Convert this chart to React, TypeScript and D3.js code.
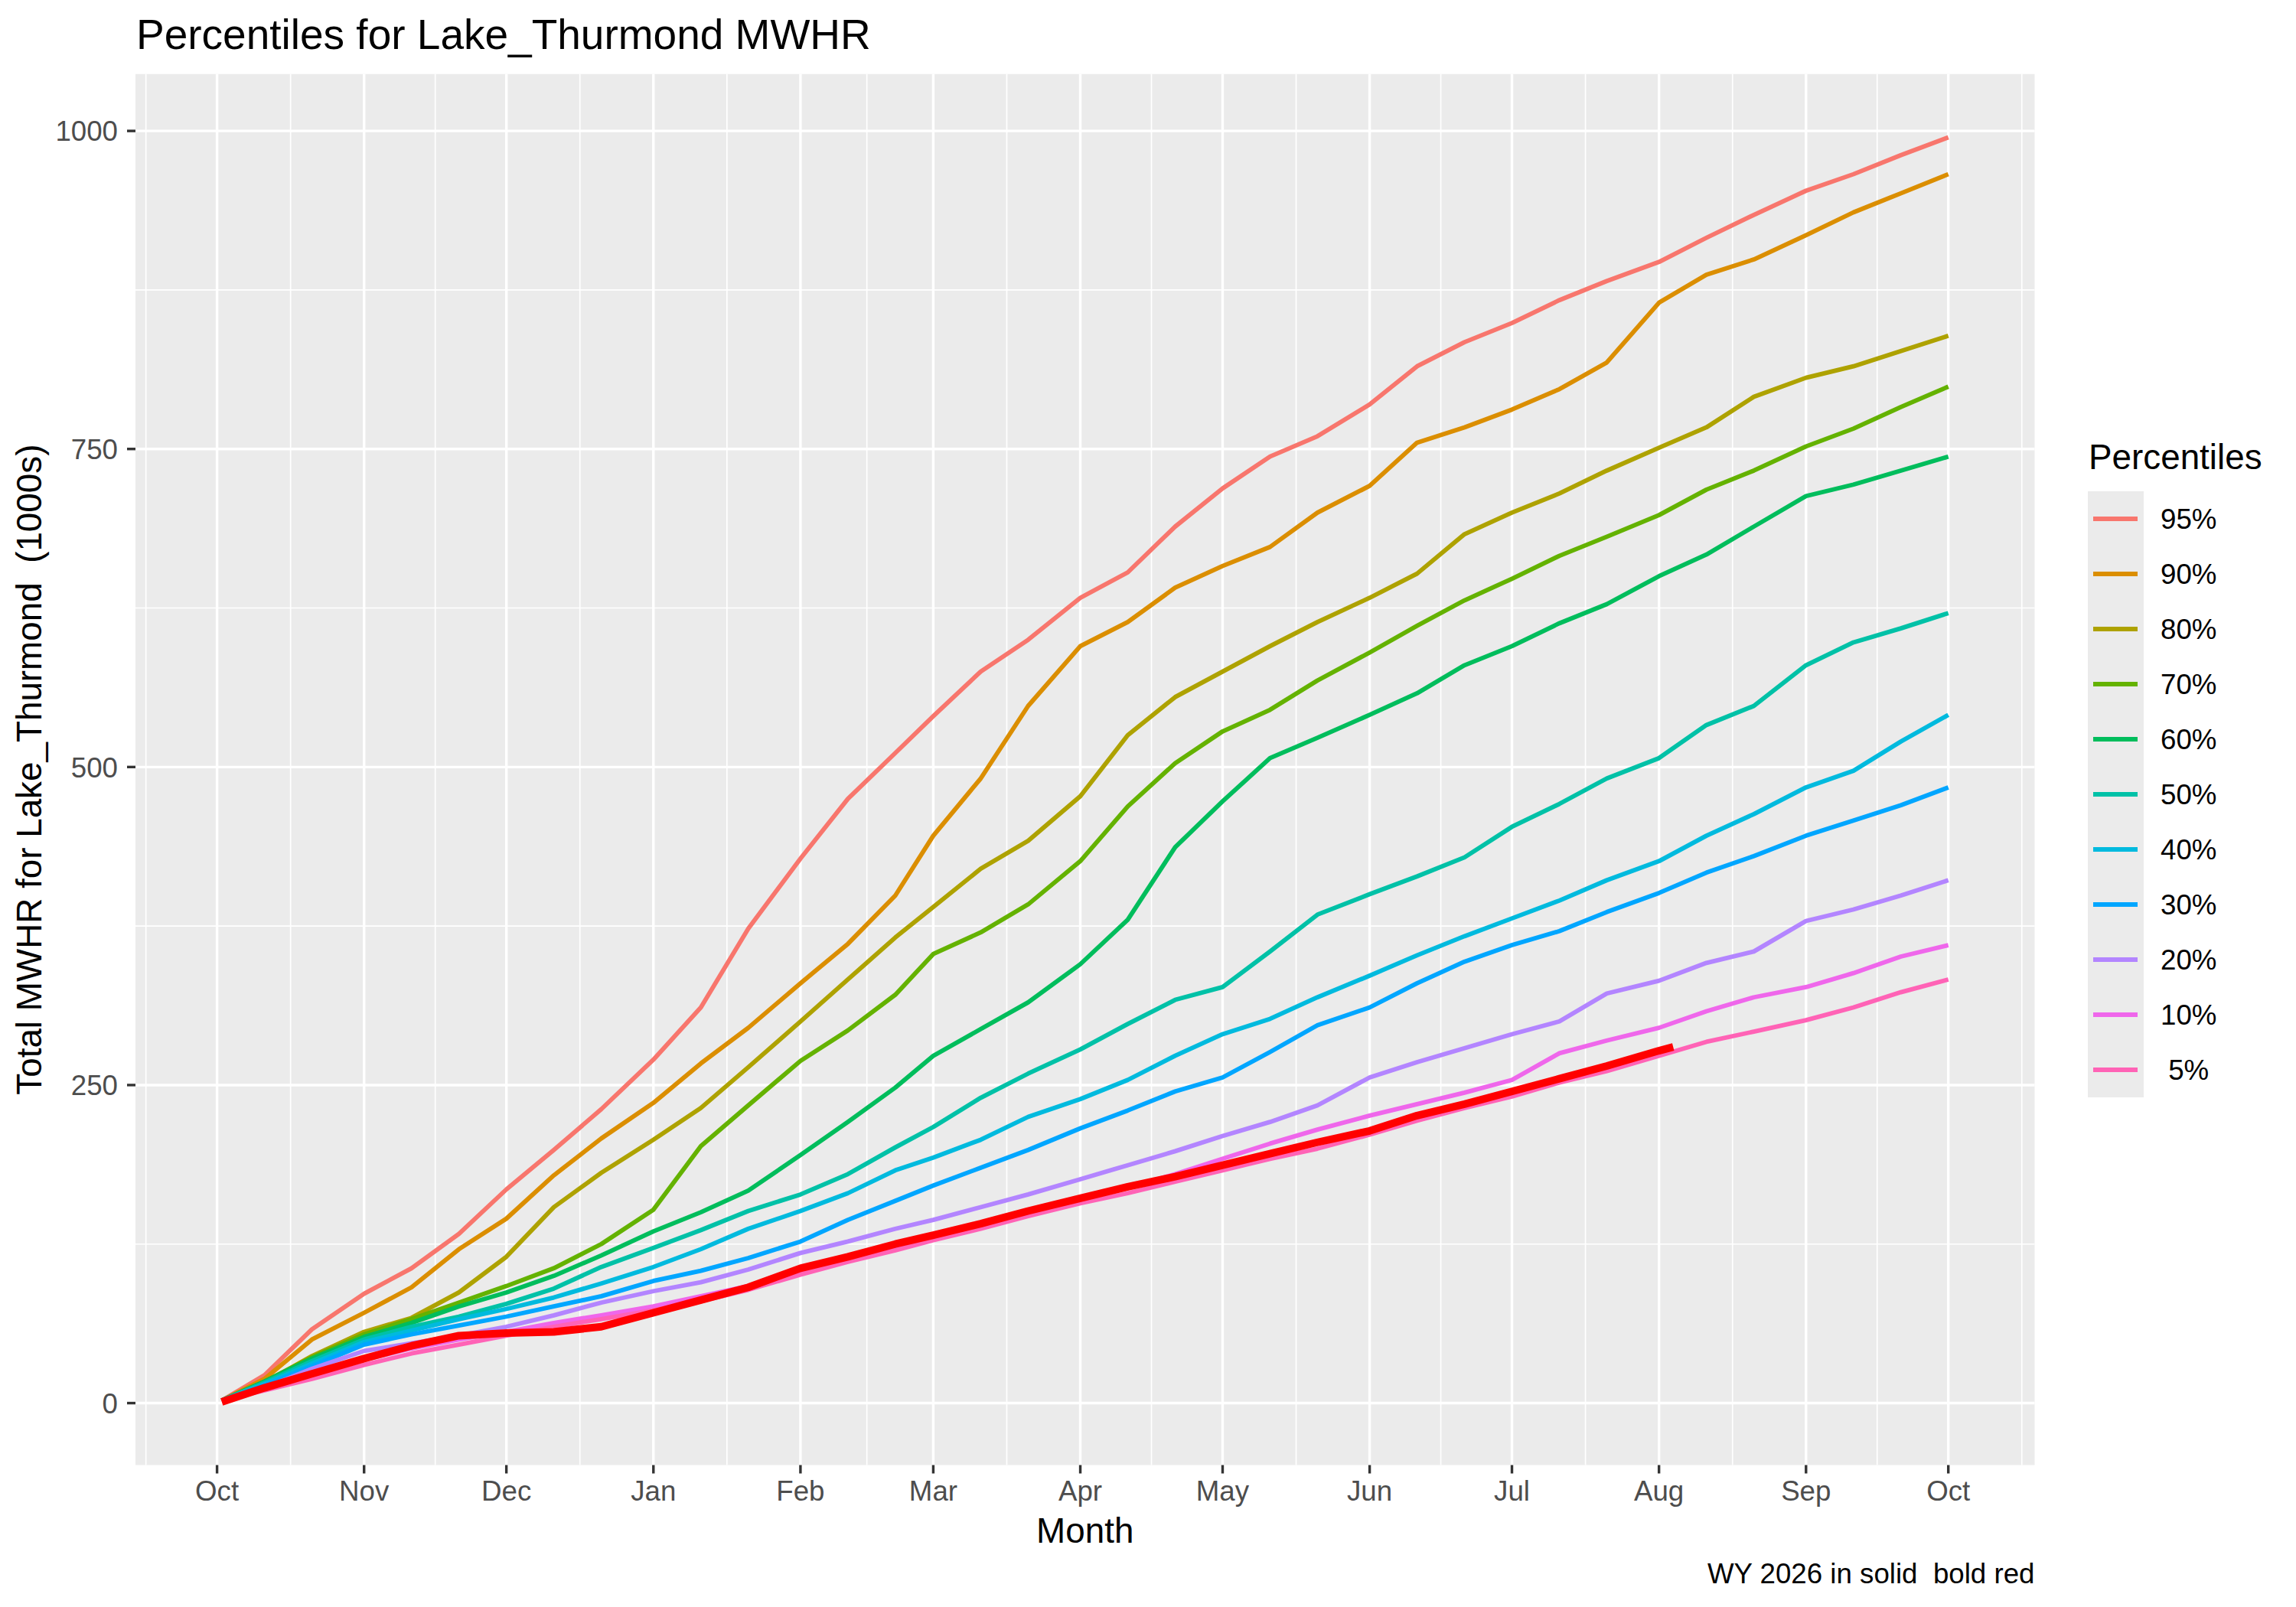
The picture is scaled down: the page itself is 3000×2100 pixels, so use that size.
import { useRef, useEffect } from "react";
import * as d3 from "d3";

// sample dates shared by the percentile curves (WY 2026: Oct 2025 - Sep 2026)
const sampleDates = [
  "2025-10-02", "2025-10-11", "2025-10-21", "2025-11-01", "2025-11-11", "2025-11-21",
  "2025-12-01", "2025-12-11", "2025-12-21", "2026-01-01", "2026-01-11", "2026-01-21",
  "2026-02-01", "2026-02-11", "2026-02-21", "2026-03-01", "2026-03-11", "2026-03-21",
  "2026-04-01", "2026-04-11", "2026-04-21", "2026-05-01", "2026-05-11", "2026-05-21",
  "2026-06-01", "2026-06-11", "2026-06-21", "2026-07-01", "2026-07-11", "2026-07-21",
  "2026-08-01", "2026-08-11", "2026-08-21", "2026-09-01", "2026-09-11", "2026-09-21",
  "2026-10-01",
];

// current water year, runs until early August
const wyDates = [
  "2025-10-02", "2025-10-11", "2025-10-21", "2025-11-01", "2025-11-11", "2025-11-21",
  "2025-12-01", "2025-12-11", "2025-12-21", "2026-01-01", "2026-01-11", "2026-01-21",
  "2026-02-01", "2026-02-11", "2026-02-21", "2026-03-01", "2026-03-11", "2026-03-21",
  "2026-04-01", "2026-04-11", "2026-04-21", "2026-05-01", "2026-05-11", "2026-05-21",
  "2026-06-01", "2026-06-11", "2026-06-21", "2026-07-01", "2026-07-11", "2026-07-21",
  "2026-08-01", "2026-08-04",
];

const p95 = [2, 22, 58, 86, 106, 133, 168, 199, 231, 270, 311, 373, 428, 475, 511, 540, 575, 600, 633, 653, 689, 719, 744, 760, 785, 815, 834, 849, 867, 882, 897, 916, 934, 953, 966, 981, 995];
const p90 = [2, 19, 50, 71, 91, 121, 145, 179, 208, 236, 267, 295, 330, 361, 399, 446, 491, 548, 595, 614, 641, 658, 673, 700, 721, 755, 767, 781, 797, 818, 865, 887, 899, 918, 936, 951, 966];
const p80 = [2, 16, 37, 56, 67, 87, 115, 154, 181, 207, 232, 264, 300, 333, 366, 390, 420, 442, 477, 525, 555, 575, 595, 614, 633, 652, 683, 700, 715, 733, 751, 767, 791, 806, 815, 827, 839];
const p70 = [2, 17, 36, 54, 66, 79, 92, 106, 125, 152, 202, 234, 269, 293, 321, 353, 370, 392, 426, 469, 503, 528, 545, 568, 590, 611, 631, 648, 666, 681, 698, 718, 733, 752, 766, 783, 799];
const p60 = [2, 17, 35, 52, 63, 76, 87, 100, 116, 135, 150, 167, 195, 221, 248, 273, 294, 315, 345, 380, 437, 473, 507, 523, 541, 558, 580, 595, 613, 628, 650, 667, 689, 713, 722, 733, 744];
const p50 = [2, 16, 33, 50, 60, 68, 78, 90, 107, 122, 136, 151, 164, 180, 201, 217, 240, 259, 278, 298, 317, 327, 355, 384, 400, 414, 429, 453, 471, 491, 507, 533, 548, 580, 598, 609, 621];
const p40 = [2, 15, 31, 48, 57, 66, 74, 83, 94, 107, 121, 137, 151, 165, 183, 193, 207, 225, 239, 254, 273, 290, 302, 319, 336, 352, 367, 381, 395, 411, 426, 446, 463, 484, 497, 520, 541];
const p30 = [2, 14, 29, 46, 54, 61, 68, 76, 84, 96, 104, 114, 127, 144, 159, 171, 185, 199, 216, 230, 245, 256, 276, 297, 311, 330, 347, 360, 371, 386, 401, 417, 430, 446, 458, 470, 484];
const p20 = [2, 12, 27, 41, 47, 53, 60, 69, 79, 88, 95, 105, 118, 127, 137, 144, 154, 164, 176, 187, 198, 210, 221, 234, 256, 268, 279, 290, 300, 322, 332, 346, 355, 379, 388, 399, 411];
const p10 = [2, 11, 22, 34, 43, 50, 56, 63, 69, 76, 84, 92, 104, 114, 123, 129, 139, 150, 160, 169, 180, 192, 204, 215, 226, 235, 244, 254, 275, 285, 295, 308, 319, 327, 338, 351, 360];
const p05 = [2, 10, 19, 30, 39, 46, 53, 60, 66, 73, 80, 89, 101, 111, 120, 128, 137, 147, 157, 165, 174, 183, 192, 200, 211, 222, 232, 241, 252, 261, 273, 284, 292, 301, 311, 323, 333];
const wy2026 = [1, 12, 23, 35, 45, 53, 55, 56, 60, 71, 81, 91, 106, 115, 125, 132, 141, 151, 161, 170, 178, 187, 196, 205, 214, 226, 235, 245, 255, 265, 277, 280];

const percentileLabels = ["95%", "90%", "80%", "70%", "60%", "50%", "40%", "30%", "20%", "10%", " 5%"];
const percentileSeries = [p95, p90, p80, p70, p60, p50, p40, p30, p20, p10, p05];
const percentileColors = [
  "#F8766D", "#DB8E00", "#AEA200", "#64B200", "#00BD5C", "#00C1A7",
  "#00BADE", "#00A6FF", "#B385FF", "#EF67EB", "#FF63B6",
];

const monthTicks = [
  "2025-10-01", "2025-11-01", "2025-12-01", "2026-01-01", "2026-02-01", "2026-03-01",
  "2026-04-01", "2026-05-01", "2026-06-01", "2026-07-01", "2026-08-01", "2026-09-01",
  "2026-10-01",
];
const yTicks = [0, 250, 500, 750, 1000];

const FONT = "'Liberation Sans', Arial, Helvetica, sans-serif";

export default function App() {
  const svgRef = useRef<SVGSVGElement | null>(null);

  useEffect(() => {
    const svg = d3.select(svgRef.current);
    svg.selectAll("*").remove();

    const width = 3000;
    const height = 2100;
    const panel = { left: 177, right: 2658.5, top: 96.8, bottom: 1914.5 };

    const parse = d3.utcParse("%Y-%m-%d");
    const dates = sampleDates.map((d) => parse(d) as Date);
    const wy = wyDates.map((d) => parse(d) as Date);
    const ticks = monthTicks.map((d) => parse(d) as Date);

    // ggplot style 5% expansion
    const expand = ([a, b]: [number, number]) => {
      const pad = (b - a) * 0.05;
      return [a - pad, b + pad];
    };

    const xExt = d3.extent(dates.map((d) => +d)) as [number, number];
    const x = d3
      .scaleUtc()
      .domain(expand(xExt).map((v) => new Date(v)))
      .range([panel.left, panel.right]);

    const allY = [...percentileSeries.flat(), ...wy2026];
    const y = d3
      .scaleLinear()
      .domain(expand(d3.extent(allY) as [number, number]))
      .range([panel.bottom, panel.top]);

    svg.attr("width", width).attr("height", height);
    svg.append("rect").attr("width", width).attr("height", height).attr("fill", "#ffffff");

    // panel background
    svg
      .append("rect")
      .attr("x", panel.left)
      .attr("y", panel.top)
      .attr("width", panel.right - panel.left)
      .attr("height", panel.bottom - panel.top)
      .attr("fill", "#EBEBEB");

    const grid = svg.append("g");

    // minor grid
    const [xd0, xd1] = x.domain();
    const xMinor: Date[] = [];
    const ext = [d3.utcMonth.offset(ticks[0], -1), ...ticks, d3.utcMonth.offset(ticks[ticks.length - 1], 1)];
    for (let i = 0; i < ext.length - 1; i++) {
      const m = new Date((+ext[i] + +ext[i + 1]) / 2);
      if (m >= xd0 && m <= xd1) xMinor.push(m);
    }
    const [yd0, yd1] = y.domain();
    const yMinor: number[] = [];
    for (let i = -1; i < yTicks.length; i++) {
      const m = (i < 0 ? yTicks[0] - 250 : yTicks[i]) + 125;
      if (m >= yd0 && m <= yd1) yMinor.push(m);
    }

    grid
      .selectAll("line.ymin")
      .data(yMinor)
      .join("line")
      .attr("x1", panel.left)
      .attr("x2", panel.right)
      .attr("y1", (d) => y(d))
      .attr("y2", (d) => y(d))
      .attr("stroke", "#ffffff")
      .attr("stroke-width", 1.7);
    grid
      .selectAll("line.xmin")
      .data(xMinor)
      .join("line")
      .attr("x1", (d) => x(d))
      .attr("x2", (d) => x(d))
      .attr("y1", panel.top)
      .attr("y2", panel.bottom)
      .attr("stroke", "#ffffff")
      .attr("stroke-width", 1.7);

    // major grid
    grid
      .selectAll("line.ymaj")
      .data(yTicks)
      .join("line")
      .attr("x1", panel.left)
      .attr("x2", panel.right)
      .attr("y1", (d) => y(d))
      .attr("y2", (d) => y(d))
      .attr("stroke", "#ffffff")
      .attr("stroke-width", 3.4);
    grid
      .selectAll("line.xmaj")
      .data(ticks)
      .join("line")
      .attr("x1", (d) => x(d))
      .attr("x2", (d) => x(d))
      .attr("y1", panel.top)
      .attr("y2", panel.bottom)
      .attr("stroke", "#ffffff")
      .attr("stroke-width", 3.4);

    // percentile lines
    const line = d3
      .line<[Date, number]>()
      .x((d) => x(d[0]))
      .y((d) => y(d[1]));

    const lines = svg.append("g").attr("fill", "none").attr("stroke-linejoin", "round");
    percentileSeries.forEach((vals, i) => {
      lines
        .append("path")
        .attr("d", line(vals.map((v, j) => [dates[j], v])))
        .attr("stroke", percentileColors[i])
        .attr("stroke-width", 5.8);
    });

    // current year
    lines
      .append("path")
      .attr("d", line(wy2026.map((v, j) => [wy[j], v])))
      .attr("stroke", "#FF0000")
      .attr("stroke-width", 10);

    // axes
    const axis = svg.append("g").attr("font-family", FONT);
    axis
      .selectAll("line.yt")
      .data(yTicks)
      .join("line")
      .attr("x1", panel.left - 11)
      .attr("x2", panel.left)
      .attr("y1", (d) => y(d))
      .attr("y2", (d) => y(d))
      .attr("stroke", "#333333")
      .attr("stroke-width", 3.4);
    axis
      .selectAll("text.yl")
      .data(yTicks)
      .join("text")
      .attr("x", panel.left - 23)
      .attr("y", (d) => y(d))
      .attr("dy", "0.36em")
      .attr("text-anchor", "end")
      .attr("font-size", 36.7)
      .attr("fill", "#4D4D4D")
      .text((d) => String(d));

    axis
      .selectAll("line.xt")
      .data(ticks)
      .join("line")
      .attr("x1", (d) => x(d))
      .attr("x2", (d) => x(d))
      .attr("y1", panel.bottom)
      .attr("y2", panel.bottom + 11)
      .attr("stroke", "#333333")
      .attr("stroke-width", 3.4);
    axis
      .selectAll("text.xl")
      .data(ticks)
      .join("text")
      .attr("x", (d) => x(d))
      .attr("y", 1961)
      .attr("text-anchor", "middle")
      .attr("font-size", 36.7)
      .attr("fill", "#4D4D4D")
      .text((d) => d3.utcFormat("%b")(d));

    // titles
    const txt = svg.append("g").attr("font-family", FONT).attr("fill", "#000000");
    txt
      .append("text")
      .attr("x", panel.left + 1)
      .attr("y", 64)
      .attr("font-size", 55)
      .text("Percentiles for Lake_Thurmond MWHR");
    txt
      .append("text")
      .attr("x", (panel.left + panel.right) / 2)
      .attr("y", 2016)
      .attr("text-anchor", "middle")
      .attr("font-size", 45.8)
      .text("Month");
    txt
      .append("text")
      .attr("transform", `translate(54,${(panel.top + panel.bottom) / 2}) rotate(-90)`)
      .attr("text-anchor", "middle")
      .attr("font-size", 45.8)
      .style("white-space", "pre")
      .text("Total MWHR for Lake_Thurmond  (1000s)");
    txt
      .append("text")
      .attr("x", panel.right)
      .attr("y", 2069)
      .attr("text-anchor", "end")
      .attr("font-size", 36.7)
      .style("white-space", "pre")
      .text("WY 2026 in solid  bold red");

    // legend
    const lg = svg.append("g").attr("font-family", FONT);
    const keyTop = 642;
    const keyH = 72;
    lg.append("text")
      .attr("x", 2729)
      .attr("y", 613)
      .attr("font-size", 45.8)
      .attr("fill", "#000000")
      .text("Percentiles");
    lg.append("rect")
      .attr("x", 2728)
      .attr("y", keyTop)
      .attr("width", 73)
      .attr("height", keyH * percentileLabels.length)
      .attr("fill", "#EBEBEB");
    percentileLabels.forEach((lab, i) => {
      const cy = keyTop + keyH / 2 + i * keyH;
      lg.append("line")
        .attr("x1", 2735)
        .attr("x2", 2793)
        .attr("y1", cy)
        .attr("y2", cy)
        .attr("stroke", percentileColors[i])
        .attr("stroke-width", 6);
      lg.append("text")
        .attr("x", 2823)
        .attr("y", cy)
        .attr("dy", "0.36em")
        .attr("font-size", 36.7)
        .attr("fill", "#000000")
        .style("white-space", "pre")
        .text(lab);
    });
  }, []);

  return (
    <div style={{ position: "absolute", left: 0, top: 0, width: 3000, height: 2100 }}>
      <svg ref={svgRef} style={{ display: "block" }} />
    </div>
  );
}
